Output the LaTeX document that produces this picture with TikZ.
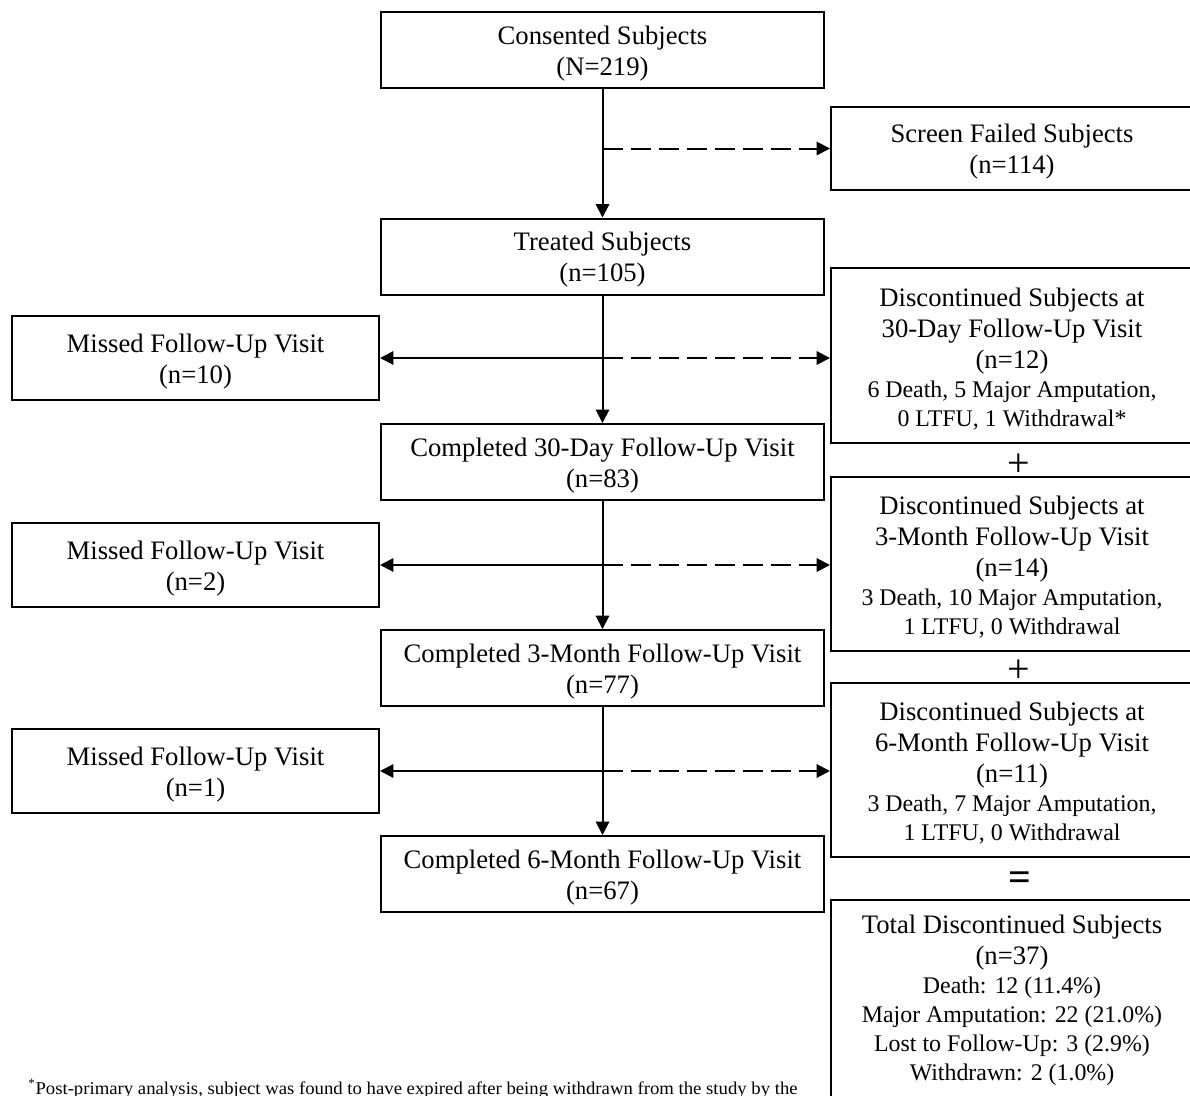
\documentclass[tikz,border=0pt]{standalone}
\usepackage{fontspec}
\setmainfont{Liberation Serif}
\usetikzlibrary{arrows.meta}
\newcommand\mainsz{\fontsize{20}{23.25}\selectfont}
\newcommand\smallsz{\fontsize{17.9}{21}\selectfont}
\newcommand\opsz{\fontsize{30}{30}\selectfont}
\newcommand\tstrut{\rule{0pt}{18.6pt}}
\begin{document}
\begin{tikzpicture}[x=0.75pt,y=-0.75pt,
  box/.style={draw,line width=1.5pt,inner sep=0pt,align=center,font=\mainsz},
  mainbox/.style={box,minimum width=332.25pt,minimum height=57pt},
  missbox/.style={box,minimum width=275.25pt,minimum height=63pt},
  sidebox/.style={box,minimum width=271.5pt},
  arr/.style={line width=1.5pt,-{Triangle[length=10pt,width=10pt]}},
  darr/.style={arr,dash pattern=on 15pt off 6pt},
  op/.style={font=\opsz,inner sep=0pt}
]
\useasboundingbox (0,0) rectangle (1190,1096);

\node[mainbox] (cons) at (602.5,50) {\tstrut Consented Subjects\\(N=219)};
\node[sidebox,minimum height=62.25pt] (sf) at (1012,148.5) {\tstrut Screen Failed Subjects\\(n=114)};
\node[mainbox] (treat) at (602.5,256.5) {\tstrut Treated Subjects\\(n=105)};

\node[missbox] (m1) at (195.5,358) {\tstrut Missed Follow-Up Visit\\(n=10)};
\node[sidebox,minimum height=131.25pt] (d30) at (1012,355.5)
  {\tstrut Discontinued Subjects at\\30-Day Follow-Up Visit\\(n=12)\\[-1.5pt]{\smallsz 6 Death, 5 Major Amputation,}\\[-1.5pt]{\smallsz 0 LTFU, 1 Withdrawal*}};
\node[mainbox] (c30) at (602.5,462) {\tstrut Completed 30-Day Follow-Up Visit\\(n=83)};
\node[op] (p1) at (1019,465) {+};

\node[missbox] (m2) at (195.5,565) {\tstrut Missed Follow-Up Visit\\(n=2)};
\node[sidebox,minimum height=130.5pt] (d3) at (1012,564)
  {\tstrut Discontinued Subjects at\\3-Month Follow-Up Visit\\(n=14)\\[-1.5pt]{\smallsz 3 Death, 10 Major Amputation,}\\[-1.5pt]{\smallsz 1 LTFU, 0 Withdrawal}};
\node[mainbox] (c3) at (602.5,668) {\tstrut Completed 3-Month Follow-Up Visit\\(n=77)};
\node[op] (p2) at (1019,671) {+};

\node[missbox] (m3) at (195.5,771) {\tstrut Missed Follow-Up Visit\\(n=1)};
\node[sidebox,minimum height=130.5pt] (d6) at (1012,770)
  {\tstrut Discontinued Subjects at\\6-Month Follow-Up Visit\\(n=11)\\[-1.5pt]{\smallsz 3 Death, 7 Major Amputation,}\\[-1.5pt]{\smallsz 1 LTFU, 0 Withdrawal}};
\node[mainbox] (c6) at (602.5,874) {\tstrut Completed 6-Month Follow-Up Visit\\(n=67)};
\node[op,font=\opsz\bfseries] (eq) at (1020,881) {=};

\node[sidebox,minimum height=151.5pt] (tot) at (1012,1000.5)
  {Total Discontinued Subjects\\(n=37)\\[-1.5pt]{\smallsz Death: 12 (11.4\%)}\\[-1.5pt]{\smallsz Major Amputation: 22 (21.0\%)}\\[-1.5pt]{\smallsz Lost to Follow-Up: 3 (2.9\%)}\\[-1.5pt]{\smallsz Withdrawn: 2 (1.0\%)}};

\node[anchor=base west,inner sep=0pt,font=\fontsize{13.5}{16}\selectfont] (note) at (28,1094)
  {\scalebox{1.04}[1]{\textsuperscript{*}Post-primary analysis, subject was found to have expired after being withdrawn from the study by the}};

\coordinate (j0) at (cons.south |- sf.west);
\coordinate (j1) at (treat.south |- m1.east);
\coordinate (j2) at (c30.south |- m2.east);
\coordinate (j3) at (c3.south |- m3.east);

\draw[arr] (cons) -- (treat);
\draw[darr] (j0) -- (sf.west);

\draw[arr] (treat) -- (c30);
\draw[arr] (j1) -- (m1.east);
\draw[darr] (j1) -- (j1 -| d30.west);

\draw[arr] (c30) -- (c3);
\draw[arr] (j2) -- (m2.east);
\draw[darr] (j2) -- (j2 -| d3.west);

\draw[arr] (c3) -- (c6);
\draw[arr] (j3) -- (m3.east);
\draw[darr] (j3) -- (j3 -| d6.west);
\end{tikzpicture}
\end{document}
